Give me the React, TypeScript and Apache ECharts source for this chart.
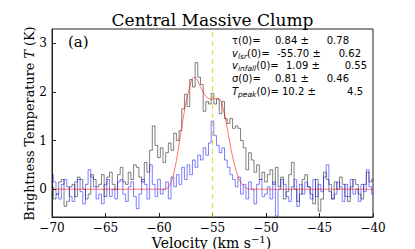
import React, { useEffect, useRef } from "react";
import * as echarts from "echarts";

// Channel grid of the spectra (km/s)
const velStart = -70;
const velStep = 0.25;

// Grey spectrum (K), one value per channel from -70 to -40 km/s
const greyT = [
  0.05, -0.2, -0.1, 0.15, 0.2, -0.35, -0.25, 0.05, 0.1, -0.15,
  0.25, 0.2, 0.0, -0.2, -0.1, 0.3, 0.2, 0.05, 0.1, 0.3,
  -0.15, 0.25, 0.35, 0.1, 0.0, 0.3, 0.45, 0.15, 0.1, 0.35,
  0.2, 0.5, 0.45, 0.25, 0.15, 0.55, 0.35, 0.8, 1.3, 0.9,
  0.65, 0.85, 0.55, 0.75, 0.95, 0.8, 1.15, 1.0, 1.2, 1.65,
  1.95, 1.7, 2.25, 2.1, 2.6, 2.3, 2.15, 1.6, 1.8, 1.75,
  1.97, 1.75, 1.85, 1.55, 1.8, 1.45, 1.35, 1.45, 1.25, 1.3,
  1.25, 1.0, 0.85, 0.4, 0.75, 0.6, 0.35, 0.5, 0.2, 0.35,
  0.15, 0.3, 0.4, 0.1, 0.45, 0.05, 0.25, -0.2, -0.05, 0.3,
  0.55, 0.0, -0.25, -0.1, 0.2, 0.3, 0.05, -0.1, -0.3, 0.2,
  -0.45, -0.2, 0.35, 0.2, -0.05, -0.2, 0.15, 0.0, 0.25, 0.1,
  -0.15, -0.25, 0.05, 0.2, 0.1, -0.1, -0.2, 0.1, 0.35, 0.15,
  0.2,
];

// Blue spectrum (K), same channels
const blueT = [
  0.3, 0.15, -0.1, -0.2, 0.1, 0.2, 0.05, -0.15, -0.25, 0.15,
  0.2, -0.05, -0.3, 0.1, 0.4, 0.25, 0.05, -0.2, -0.1, -0.3,
  0.1, 0.2, -0.15, 0.0, -0.2, 0.15, 0.2, -0.1, -0.25, 0.05,
  0.15, -0.15, -0.4, -0.1, 0.2, 0.1, -0.2, 0.5, 0.1, -0.15,
  0.2, -0.1, 0.0, 0.15, -0.2, 0.25, 0.05, 0.3, 0.1, 0.45,
  0.2, 0.5, 0.3, 0.6, 0.45, 0.7, 0.6, 0.85, 0.7, 0.95,
  1.4, 1.1, 0.9, 0.75, 0.85, 0.6, 0.45, 0.3, 0.2, 0.05,
  0.25, -0.1, 0.1, -0.2, 0.15, 0.0, -0.3, 0.1, 0.2, -0.15,
  -0.1, 0.05, -0.2, 0.15, -0.55, 0.0, 0.2, 0.1, -0.15, -0.25,
  0.05, 0.2, -0.35, 0.1, -0.1, 0.15, 0.05, -0.2, 0.2, -0.15,
  0.1, -0.05, 0.25, 0.5, 0.1, -0.2, -0.1, 0.15, 0.05, -0.25,
  0.1, -0.15, 0.2, -0.1, 0.0, -0.25, 0.1, -0.05, 0.4, 0.05,
  -0.1,
];

// Red model fit
const fitVel = [
  -70, -60, -59.5, -59, -58.5, -58, -57.5, -57, -56.75, -56.5,
  -56, -55.5, -55, -54.5, -54, -53.5, -53, -52.5, -52, -51.5, -40,
];
const fitT = [
  0, 0, 0.0, 0.08, 0.45, 1.1, 1.75, 2.2, 2.3, 2.27,
  2.05, 1.88, 1.85, 1.87, 1.65, 1.1, 0.55, 0.2, 0.05, 0.0, 0,
];

const vMarker = -55.0;
const xTicks = [-70, -65, -60, -55, -50, -45, -40];
const yTicks = [0, 1, 2, 3];

const fitParams = [
  { label: "{n|τ(0)=}", value: "0.84 ±", err: "0.78" },
  { label: "{i|v}{s|lsr}{n|(0)=}", value: "-55.70 ±", err: "0.62" },
  { label: "{i|v}{s|infall}{n|(0)=}", value: "1.09 ±", err: "0.55" },
  { label: "{n|σ(0)=}", value: "0.81 ±", err: "0.46" },
  { label: "{i|T}{s|peak}{n|(0)=}", value: "10.2 ±", err: "4.5" },
];
const valueX = [275, 277, 286, 275, 282];
const errRight = [349, 361, 367, 349, 363];
const lineY = [40, 53, 65.5, 78.5, 91];

const minus = (v: number) => String(v).replace("-", "\u2212");

export default function App() {
  const ref = useRef<HTMLDivElement>(null);
  useEffect(() => {
    if (!ref.current) return;
    document.body.style.margin = "0";
    const chart = echarts.init(ref.current, null, { renderer: "svg" });
    const vel = greyT.map((_, i) => velStart + i * velStep);
    const serif = "DejaVu Serif";
    const sans = "DejaVu Sans";
    const annot: any[] = [];
    fitParams.forEach((p, k) => {
      annot.push({
        type: "text",
        x: 232,
        y: lineY[k],
        style: {
          text: p.label,
          verticalAlign: "middle",
          rich: {
            n: { fontFamily: sans, fontSize: 10, fill: "#000", lineHeight: 14, verticalAlign: "middle" },
            i: { fontFamily: sans, fontSize: 10, fontStyle: "italic", fill: "#000", lineHeight: 14, verticalAlign: "middle" },
            s: { fontFamily: sans, fontSize: 7.5, fontStyle: "italic", fill: "#000", lineHeight: 10, verticalAlign: "bottom" },
          },
        },
      });
      annot.push({
        type: "text",
        x: valueX[k],
        y: lineY[k],
        style: { text: p.value, fontFamily: sans, fontSize: 10, fill: "#000", verticalAlign: "middle" },
      });
      annot.push({
        type: "text",
        x: errRight[k],
        y: lineY[k],
        style: { text: p.err, fontFamily: sans, fontSize: 10, fill: "#000", align: "right", verticalAlign: "middle" },
      });
    });

    chart.setOption({
      animation: false,
      grid: { left: 52, right: 42, top: 29, bottom: 32, show: true, borderColor: "#222", borderWidth: 1 },
      xAxis: {
        type: "value",
        min: -70,
        max: -40,
        interval: 5,
        axisLine: { onZero: false, lineStyle: { color: "#222", width: 1 } },
        axisTick: { inside: true, length: 4, lineStyle: { color: "#222" }, customValues: xTicks },
        axisLabel: { customValues: xTicks, fontFamily: serif, fontSize: 12, color: "#000", margin: 5, formatter: (v: number) => minus(v) },
        splitLine: { show: false },
      },
      yAxis: {
        type: "value",
        min: -0.57,
        max: 3.29,
        axisLine: { show: true, onZero: false, lineStyle: { color: "#222", width: 1 } },
        axisTick: { show: true, inside: true, length: 4, lineStyle: { color: "#222" }, customValues: yTicks },
        axisLabel: { customValues: yTicks, fontFamily: serif, fontSize: 12, color: "#000", margin: 5, formatter: (v: number) => minus(v) },
        splitLine: { show: false },
      },
      series: [
        {
          type: "line",
          step: "middle",
          symbol: "none",
          data: vel.map((v, i) => [v, greyT[i]]),
          lineStyle: { color: "rgba(0,0,0,0.5)", width: 1 },
        },
        {
          type: "line",
          step: "middle",
          symbol: "none",
          data: vel.map((v, i) => [v, blueT[i]]),
          lineStyle: { color: "rgba(0,0,255,0.5)", width: 1 },
        },
        {
          type: "line",
          smooth: 0.4,
          symbol: "none",
          data: fitVel.map((v, i) => [v, fitT[i]]),
          lineStyle: { color: "rgba(255,0,0,0.55)", width: 1 },
          markLine: {
            silent: true,
            symbol: "none",
            label: { show: false },
            lineStyle: { color: "rgba(210,210,0,0.7)", type: [5, 4], width: 1.2 },
            data: [{ xAxis: vMarker }],
          },
        },
      ],
      graphic: [
        {
          type: "text",
          x: 212.5,
          y: 20,
          style: { text: "Central Massive Clump", fontFamily: serif, fontSize: 17, fill: "#000", align: "center", verticalAlign: "middle" },
        },
        {
          type: "text",
          x: 68,
          y: 42,
          style: { text: "(a)", fontFamily: serif, fontSize: 15, fill: "#000", verticalAlign: "middle" },
        },
        {
          type: "text",
          x: 29,
          y: 123.5,
          rotation: Math.PI / 2,
          style: {
            text: "{n|Brightness Temperature }{i|T}{n| (K)}",
            align: "center",
            verticalAlign: "middle",
            rich: {
              n: { fontFamily: serif, fontSize: 12.8, fill: "#000" },
              i: { fontFamily: serif, fontSize: 12.8, fontStyle: "italic", fill: "#000" },
            },
          },
        },
        {
          type: "text",
          x: 211.5,
          y: 242,
          style: {
            text: "{n|Velocity (km s}{s|\u22121}{n|)}",
            align: "center",
            verticalAlign: "middle",
            rich: {
              n: { fontFamily: serif, fontSize: 14, fill: "#000", lineHeight: 16, verticalAlign: "bottom" },
              s: { fontFamily: serif, fontSize: 10, fill: "#000", lineHeight: 10, verticalAlign: "top" },
            },
          },
        },
        ...annot,
      ],
    });
    return () => chart.dispose();
  }, []);
  return <div ref={ref} style={{ width: 415, height: 249 }} />;
}
